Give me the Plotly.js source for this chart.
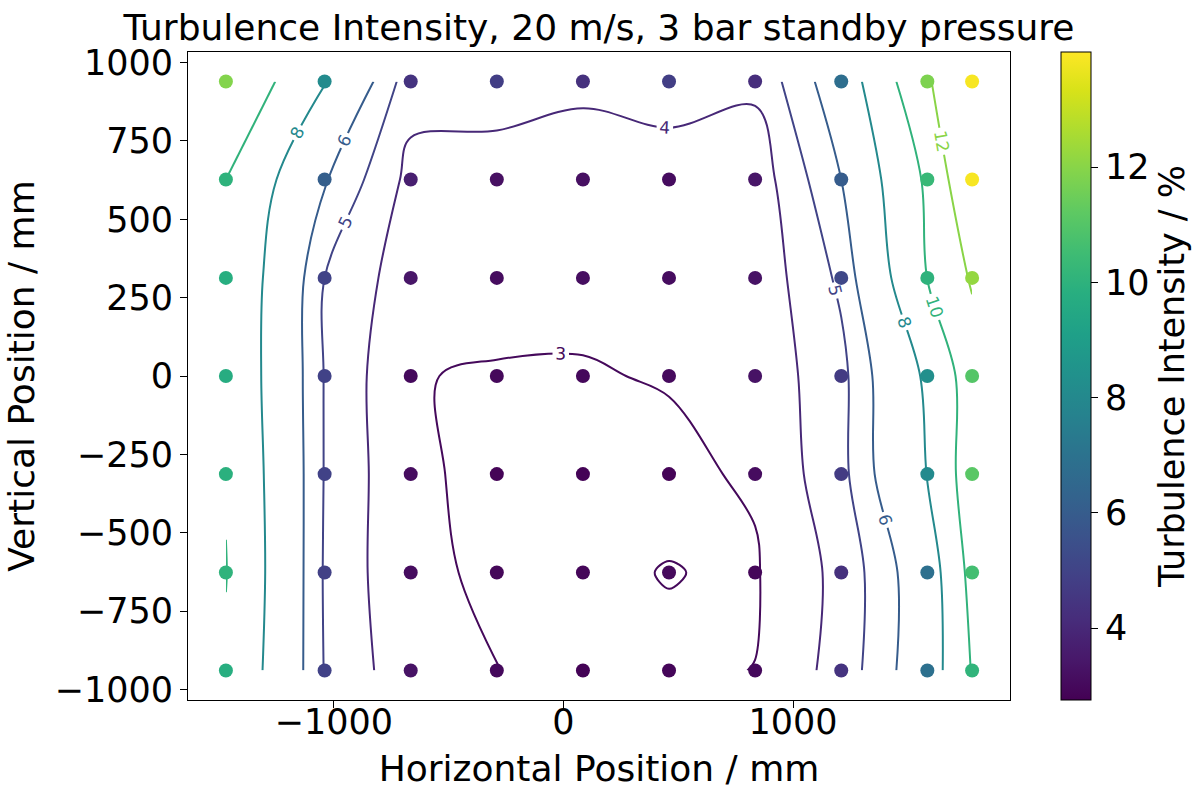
<!DOCTYPE html>
<html>
<head>
<meta charset="utf-8">
<script src="https://cdn.plot.ly/plotly-3.0.1.min.js"></script>
<style>html,body{margin:0;padding:0;background:#fff;}#chart{width:1199px;height:789px;}</style>
</head>
<body>
<div id="chart"></div>
<script>
// Measurement positions (mm)
const xPos = [-1470, -1040, -665, -290, 85, 460, 835, 1210, 1585, 1780];
const yPos = [-940, -627, -313, 0, 313, 627, 940];

// Turbulence intensity (%) per row, left to right
const tiRowM940 = [9.8, 4.95, 3.3, 3.01, 2.8, 2.9, 3.01, 4.4, 6.9, 10.1];
const tiRowM627 = [10.05, 4.9, 3.1, 2.92, 2.9, 3.02, 2.92, 4.3, 6.9, 10.6];
const tiRowM313 = [9.9, 4.95, 3.1, 2.85, 2.8, 2.85, 3.09, 4.7, 8.05, 11.1];
const tiRow0    = [9.7, 4.95, 3.01, 2.98, 2.96, 3.04, 3.3, 4.7, 8.3, 11.0];
const tiRowP313 = [9.8, 5.0, 3.4, 3.1, 3.15, 3.1, 3.3, 5.2, 10.02, 12.2];
const tiRowP627 = [10.0, 6.1, 3.7, 3.2, 3.2, 3.1, 3.4, 6.0, 10.3, 13.9];
const tiRowP940 = [11.9, 8.1, 4.4, 4.8, 4.3, 4.8, 4.2, 6.8, 11.8, 13.9];

const zGrid = [tiRowM940, tiRowM627, tiRowM313, tiRow0, tiRowP313, tiRowP627, tiRowP940];

// Contour levels and colour bar ticks
const contourLevels = [3, 4, 5, 6, 8, 10, 12];
const colorbarTicks = [4, 6, 8, 10, 12];
const cMin = 2.75, cMax = 14.0;
const FONT = "DejaVu Sans, Arial, sans-serif";

// viridis reference stops (for contour line colours)
const viridisStops = ['#440154','#482475','#414487','#355f8d','#2a788e','#21918c','#22a884','#44bf70','#7ad151','#bddf26','#fde725'];
function hex2rgb(h){return [parseInt(h.substr(1,2),16),parseInt(h.substr(3,2),16),parseInt(h.substr(5,2),16)];}
function viridis(v){
  let t = Math.max(0, Math.min(1, (v - cMin) / (cMax - cMin)));
  const p = t * (viridisStops.length - 1), i = Math.min(Math.floor(p), viridisStops.length - 2), f = p - i;
  const a = hex2rgb(viridisStops[i]), b = hex2rgb(viridisStops[i + 1]);
  return 'rgb(' + a.map((c, k) => Math.round(c + (b[k] - c) * f)).join(',') + ')';
}

const ptsX = [], ptsY = [], ptsZ = [];
yPos.forEach((y, j) => xPos.forEach((x, i) => { ptsX.push(x); ptsY.push(y); ptsZ.push(zGrid[j][i]); }));

const traces = contourLevels.map(L => ({
  type: 'contour', x: xPos, y: yPos, z: zGrid,
  showscale: false, autocontour: false,
  contours: {start: L, end: L, size: 1, coloring: 'none', showlabels: true,
             labelfont: {family: FONT, size: 17, color: viridis(L)}},
  line: {width: 2, smoothing: 1, color: viridis(L)},
  hoverinfo: 'skip'
}));

traces.push({
  type: 'scatter', mode: 'markers', x: ptsX, y: ptsY,
  marker: {
    size: 14, color: ptsZ, colorscale: 'Viridis', cmin: cMin, cmax: cMax,
    showscale: true,
    colorbar: {
      x: 0.8635, xanchor: 'left', xpad: 0, y: 0.5, yanchor: 'middle', ypad: 0, len: 1, lenmode: 'fraction',
      thickness: 30, thicknessmode: 'pixels', outlinewidth: 1, outlinecolor: '#000',
      ticks: 'outside', ticklen: 7, tickwidth: 1, tickcolor: '#000',
      tickvals: colorbarTicks, tickfont: {family: FONT, size: 35, color: '#000'},
      title: {text: 'Turbulence Intensity / %', side: 'right', font: {family: FONT, size: 35, color: '#000'}}
    }
  },
  hoverinfo: 'x+y'
});

const layout = {
  width: 1199, height: 789,
  margin: {l: 188, r: 0, t: 52, b: 89},
  paper_bgcolor: '#fff', plot_bgcolor: '#fff',
  showlegend: false,
  title: {text: 'Turbulence Intensity, 20 m/s, 3 bar standby pressure',
          font: {family: FONT, size: 36, color: '#000'},
          x: 599 / 1199, xref: 'container', xanchor: 'center', y: 0.981, yref: 'container', yanchor: 'top'},
  xaxis: {
    domain: [0, 822 / 1011],
    range: [-1635, 1945], tickvals: [-1000, 0, 1000], showgrid: false, zeroline: false,
    showline: true, linecolor: '#000', linewidth: 1, mirror: true,
    ticks: 'outside', ticklen: 7, tickcolor: '#000', ticklabelstandoff: -16,
    tickfont: {family: FONT, size: 35, color: '#000'},
    title: {text: 'Horizontal Position / mm', font: {family: FONT, size: 36, color: '#000'}, standoff: 16}
  },
  yaxis: {
    range: [-1034, 1034], tickvals: [-1000, -750, -500, -250, 0, 250, 500, 750, 1000],
    showgrid: false, zeroline: false,
    showline: true, linecolor: '#000', linewidth: 1, mirror: true,
    ticks: 'outside', ticklen: 7, tickcolor: '#000',
    tickfont: {family: FONT, size: 35, color: '#000'},
    title: {text: 'Vertical Position / mm', font: {family: FONT, size: 36, color: '#000'}, standoff: 8}
  }
};

Plotly.newPlot('chart', traces, layout, {displayModeBar: false, staticPlot: true});
</script>
</body>
</html>
